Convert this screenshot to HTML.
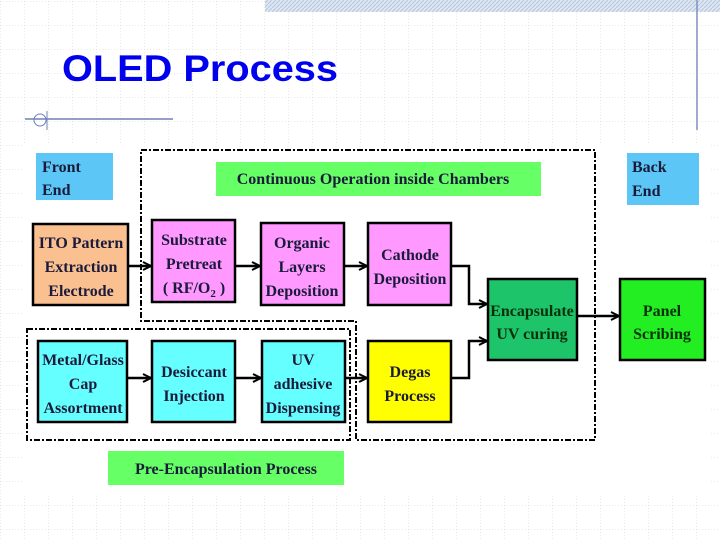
<!DOCTYPE html>
<html><head><meta charset="utf-8"><style>
html,body{margin:0;padding:0;background:#fff;}
svg{display:block;}
.t{font-family:"Liberation Serif",serif;font-weight:bold;font-size:16px;fill:#1a1a3a;text-anchor:middle;}
</style></head><body>
<svg width="720" height="540" xmlns="http://www.w3.org/2000/svg">
<defs>
<pattern id="g" width="24" height="24" patternUnits="userSpaceOnUse" x="0" y="1">
<path d="M0 0H24M0 0V24" stroke="#d4d4d4" stroke-width="1" stroke-dasharray="1,2" fill="none"/>
</pattern>
<pattern id="h" width="4" height="4" patternUnits="userSpaceOnUse">
<rect width="4" height="4" fill="#dde6f2"/><path d="M0 4L4 0" stroke="#b8c8e0" stroke-width="1"/>
</pattern>
<marker id="a" markerWidth="10" markerHeight="10" refX="9" refY="5" orient="auto" markerUnits="userSpaceOnUse">
<path d="M1 1L9 5L1 9" fill="none" stroke="#000" stroke-width="2"/>
</marker>
</defs>
<rect width="720" height="540" fill="url(#g)"/>
<rect x="265" y="0" width="455" height="12" fill="url(#h)"/>
<line x1="697" y1="0" x2="697" y2="130" stroke="#8090c0" stroke-width="1.5"/>
<line x1="25" y1="119" x2="173" y2="119" stroke="#7080b8" stroke-width="1.5"/>
<circle cx="40" cy="120" r="6" fill="none" stroke="#7080b8"/>
<line x1="47" y1="111" x2="47" y2="130" stroke="#7080b8"/>
<text x="62" y="81" font-family="Liberation Sans,sans-serif" font-weight="bold" font-size="37" fill="#0000ee" textLength="276" lengthAdjust="spacingAndGlyphs">OLED Process</text>

<rect x="22" y="143" width="688" height="352" fill="#fff"/>

<path d="M141 150H595V440H356V321H141Z" fill="none" stroke="#000" stroke-width="2" stroke-dasharray="6,2,2,2"/>
<rect x="27" y="329" width="323" height="111" fill="none" stroke="#000" stroke-width="2" stroke-dasharray="6,2,2,2"/>

<rect x="36" y="153" width="77" height="47" fill="#5cc6f7"/>
<text class="t" x="42" y="172" style="text-anchor:start">Front</text>
<text class="t" x="42" y="195" style="text-anchor:start">End</text>
<rect x="216" y="162" width="325" height="34" fill="#66ff66"/>
<text class="t" x="373" y="184">Continuous Operation inside Chambers</text>
<rect x="627" y="153" width="72" height="52" fill="#5cc6f7"/>
<text class="t" x="632" y="172" style="text-anchor:start">Back</text>
<text class="t" x="632" y="196" style="text-anchor:start">End</text>
<rect x="108" y="451" width="236" height="34" fill="#66ff66"/>
<text class="t" x="226" y="474">Pre-Encapsulation Process</text>

<g stroke="#000" stroke-width="2.5">
<rect x="33" y="224" width="95" height="81" fill="#fbc08f"/>
<rect x="152" y="220" width="83" height="82" fill="#ff99ff"/>
<rect x="261" y="223" width="83" height="82" fill="#ff99ff"/>
<rect x="368" y="223" width="83" height="82" fill="#ff99ff"/>
<rect x="38" y="341" width="89" height="81" fill="#66ffff"/>
<rect x="152" y="341" width="83" height="81" fill="#66ffff"/>
<rect x="262" y="341" width="83" height="81" fill="#66ffff"/>
<rect x="368" y="341" width="83" height="81" fill="#ffff00"/>
<rect x="488" y="279" width="89" height="81" fill="#1dc46a"/>
<rect x="620" y="279" width="85" height="81" fill="#22ee22"/>
</g>
<text class="t" x="81" y="248">ITO Pattern</text>
<text class="t" x="81" y="272">Extraction</text>
<text class="t" x="81" y="296">Electrode</text>
<text class="t" x="194" y="245">Substrate</text>
<text class="t" x="194" y="269">Pretreat</text>
<text class="t" x="194" y="293">( RF/O<tspan font-size="11" dy="4">2</tspan><tspan dy="-4"> )</tspan></text>
<text class="t" x="302" y="248">Organic</text>
<text class="t" x="302" y="272">Layers</text>
<text class="t" x="302" y="296">Deposition</text>
<text class="t" x="410" y="260">Cathode</text>
<text class="t" x="410" y="284">Deposition</text>
<text class="t" x="83" y="365">Metal/Glass</text>
<text class="t" x="83" y="389">Cap</text>
<text class="t" x="83" y="413">Assortment</text>
<text class="t" x="194" y="377">Desiccant</text>
<text class="t" x="194" y="401">Injection</text>
<text class="t" x="303" y="365">UV</text>
<text class="t" x="303" y="389">adhesive</text>
<text class="t" x="303" y="413">Dispensing</text>
<text class="t" x="410" y="377">Degas</text>
<text class="t" x="410" y="401">Process</text>
<text class="t" x="532" y="316" style="fill:#0a300a">Encapsulate</text>
<text class="t" x="532" y="339" style="fill:#0a300a">UV curing</text>
<text class="t" x="662" y="316" style="fill:#0a300a">Panel</text>
<text class="t" x="662" y="339" style="fill:#0a300a">Scribing</text>

<g stroke="#000" stroke-width="2.5" fill="none" marker-end="url(#a)">
<path d="M128 266H151"/>
<path d="M235 266H260"/>
<path d="M344 266H367"/>
<path d="M127 378H151"/>
<path d="M235 378H261"/>
<path d="M345 378H367"/>
<path d="M451 266H469V304H487"/>
<path d="M451 378H469V341H487"/>
<path d="M577 316H619"/>
</g>
</svg>
</body></html>
